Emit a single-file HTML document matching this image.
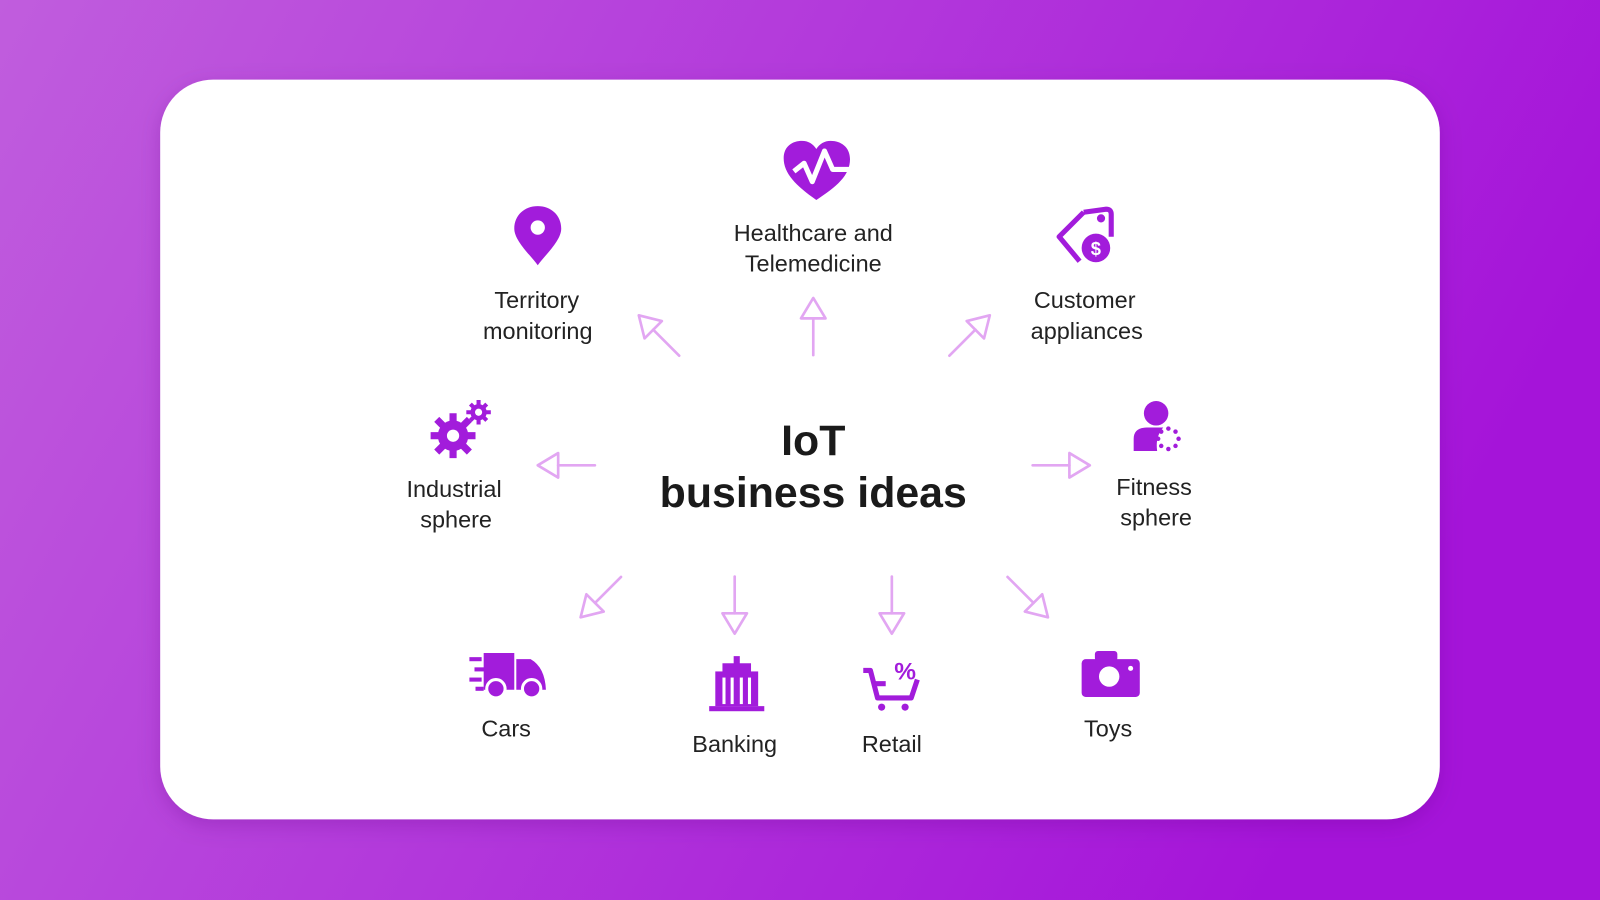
<!DOCTYPE html>
<html><head><meta charset="utf-8"><style>
html,body{margin:0;padding:0;width:1600px;height:900px;overflow:hidden}
svg{display:block}
text{font-family:"Liberation Sans",sans-serif;fill:#222}
</style></head><body>
<svg width="1600" height="900" viewBox="0 0 1568 882" preserveAspectRatio="none">
<defs>
<linearGradient id="bg" x1="0" y1="0" x2="1" y2="0.3">
<stop offset="0" stop-color="#c05ddd"/><stop offset="1" stop-color="#a514d9"/>
</linearGradient>
<filter id="sh" x="-10%" y="-10%" width="120%" height="130%"><feDropShadow dx="0" dy="6" stdDeviation="10" flood-color="#5a0080" flood-opacity="0.25"/></filter>
<g id="ar" fill="none" stroke="#e2a6f2" stroke-width="2.6" stroke-linejoin="round" stroke-linecap="round">
<path d="M0 0 L-12 20 L12 20 Z"/><path d="M0 20 L0 56"/>
</g>
</defs>
<rect width="1568" height="882" fill="url(#bg)"/>
<rect x="157" y="78" width="1254" height="725" rx="52" fill="#fff" filter="url(#sh)"/>

<use href="#ar" transform="translate(626,309) rotate(-45)"/>
<use href="#ar" transform="translate(797,292)"/>
<use href="#ar" transform="translate(970,309) rotate(45)"/>
<use href="#ar" transform="translate(527,456) rotate(-90)"/>
<use href="#ar" transform="translate(1068,456) rotate(90)"/>
<use href="#ar" transform="translate(569,605) rotate(-135)"/>
<use href="#ar" transform="translate(720,621) rotate(180)"/>
<use href="#ar" transform="translate(874,621) rotate(180)"/>
<use href="#ar" transform="translate(1027,605) rotate(135)"/>

<text x="797" y="446" text-anchor="middle" font-size="42" font-weight="bold" style="fill:#1a1a1a">IoT</text>
<text x="797" y="497" text-anchor="middle" font-size="42" font-weight="bold" style="fill:#1a1a1a">business ideas</text>

<g font-size="23" text-anchor="middle">
<text x="797" y="236">Healthcare and</text><text x="797" y="266">Telemedicine</text>
<text x="526" y="302">Territory</text><text x="527" y="332">monitoring</text>
<text x="1063" y="302">Customer</text><text x="1065" y="332">appliances</text>
<text x="445" y="487">Industrial</text><text x="447" y="517">sphere</text>
<text x="1131" y="485">Fitness</text><text x="1133" y="515">sphere</text>
<text x="496" y="722">Cars</text>
<text x="720" y="737">Banking</text>
<text x="874" y="737">Retail</text>
<text x="1086" y="722">Toys</text>
</g>

<g fill="#a21cdb">
<path d="M800 196 C780 182 768 170 768 155 C768 143 777 138 786 138 C792 138 797 141 800 146 C803 141 808 138 814 138 C824 138 833 144 833 156 C833 172 820 183 800 196 Z"/>
<path d="M778 168 L788 160 L796 178 L808 148 L816 166 L834 166" fill="none" stroke="#fff" stroke-width="5" stroke-linejoin="round"/>
<path d="M527 260 C520 250 504 236 504 224 C504 211 514 202 527 202 C540 202 550 211 550 224 C550 236 534 250 527 260 Z"/>
<circle cx="527" cy="223" r="7" fill="#fff"/>
<path d="M1062 208 L1084 205 Q1089 205 1089 210 L1089 232" fill="none" stroke="#a21cdb" stroke-width="5"/>
<path d="M1062 208 L1038 232 L1058 256" fill="none" stroke="#a21cdb" stroke-width="5" stroke-linejoin="round"/>
<circle cx="1079" cy="214" r="4"/>
<circle cx="1074" cy="243" r="14"/>
<text x="1074" y="250" text-anchor="middle" font-size="18" font-weight="bold" style="fill:#fff">$</text>
<circle cx="444" cy="427" r="15"/>
<g stroke="#a21cdb" stroke-width="7">
<path d="M444 405 V449 M422 427 H466 M428 411 L460 443 M460 411 L428 443"/>
</g>
<circle cx="444" cy="427" r="6" fill="#fff"/>
<circle cx="469" cy="404" r="8"/>
<g stroke="#a21cdb" stroke-width="4"><path d="M469 392 V416 M457 404 H481 M461 396 L477 412 M477 396 L461 412"/></g>
<circle cx="469" cy="404" r="3.5" fill="#fff"/>
<circle cx="1133" cy="405" r="12"/>
<path d="M1111 442 L1111 430 Q1111 419 1124 419 L1140 419 Q1132 428 1134 442 Z"/>
<g><circle cx="1145" cy="420" r="2.2"/><circle cx="1152" cy="423" r="2.2"/><circle cx="1155" cy="430" r="2.2"/><circle cx="1152" cy="437" r="2.2"/><circle cx="1145" cy="440" r="2.2"/><circle cx="1138" cy="437" r="2.2"/><circle cx="1135" cy="430" r="2.2"/><circle cx="1138" cy="423" r="2.2"/></g>
<path d="M474 640 L504 640 L504 676 L474 676 Z"/>
<path d="M506 646 L520 646 Q534 654 535 676 L506 676 Z"/>
<rect x="460" y="644" width="12" height="4"/><rect x="465" y="654" width="10" height="4"/><rect x="460" y="664" width="12" height="4"/><rect x="466" y="673" width="8" height="4"/>
<circle cx="486" cy="675" r="9" stroke="#fff" stroke-width="3"/><circle cx="521" cy="675" r="9" stroke="#fff" stroke-width="3"/>
<rect x="695" y="692" width="54" height="5"/>
<rect x="701" y="658" width="42" height="34"/>
<rect x="708" y="650" width="28" height="10"/>
<rect x="719" y="643" width="6" height="8"/>
<g fill="#fff"><rect x="708" y="664" width="3" height="26"/><rect x="716" y="664" width="3" height="26"/><rect x="725" y="664" width="3" height="26"/><rect x="733" y="664" width="3" height="26"/></g>
<path d="M846 657 L853 657 L860 684 L893 684 L899 666" fill="none" stroke="#a21cdb" stroke-width="5" stroke-linejoin="round"/>
<path d="M857 670 L868 670" stroke="#a21cdb" stroke-width="5"/>
<circle cx="864" cy="693" r="3.5"/><circle cx="887" cy="693" r="3.5"/>
<text x="887" y="666" text-anchor="middle" font-size="24" font-weight="bold" style="fill:#a21cdb">%</text>
<rect x="1060" y="646" width="57" height="37" rx="4"/>
<rect x="1073" y="638" width="22" height="10" rx="3"/>
<circle cx="1087" cy="663" r="10" fill="#fff"/>
<circle cx="1108" cy="655" r="2.5" fill="#fff"/>
</g>
</svg>
</body></html>
